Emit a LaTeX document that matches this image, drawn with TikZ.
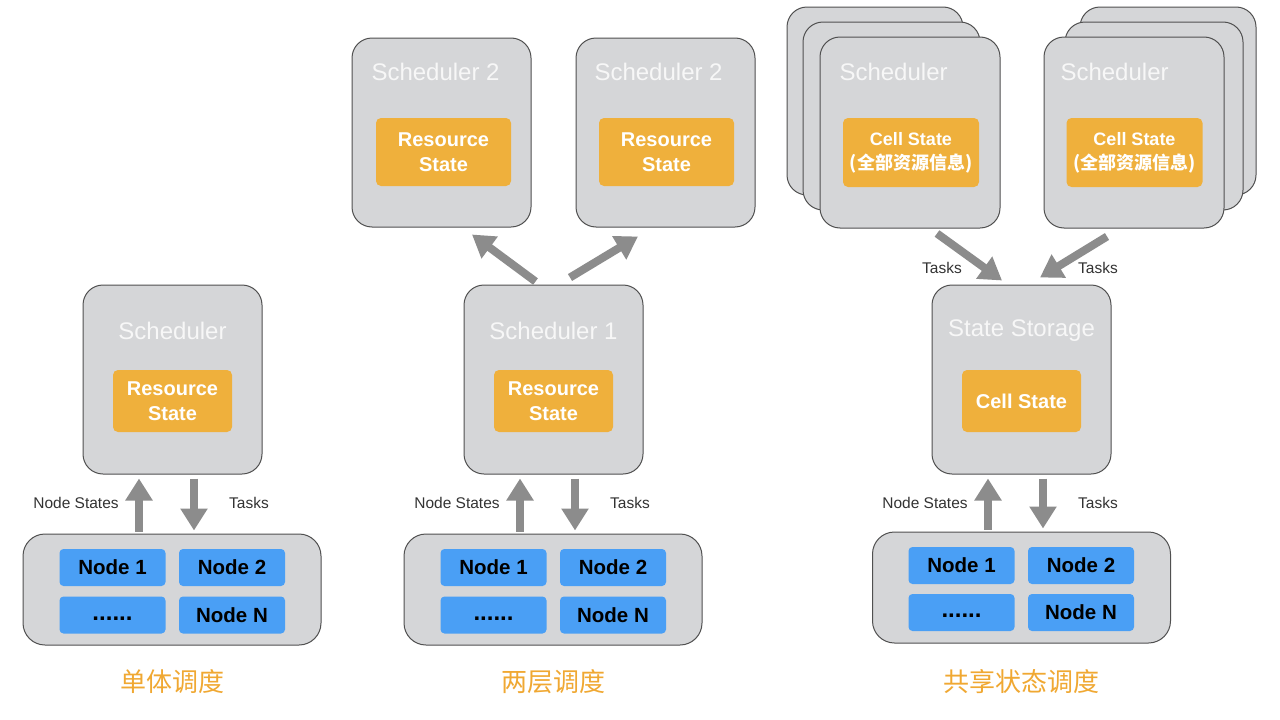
\documentclass[tikz,border=0pt]{standalone}
\usepackage{fontspec}
\setmainfont{Liberation Sans}
\newfontfamily\cjk{Noto Sans CJK SC}
\usetikzlibrary{arrows.meta,calc}
\definecolor{boxc}{HTML}{D5D6D8}
\definecolor{bordc}{HTML}{505050}
\definecolor{orangec}{HTML}{EFB03C}
\definecolor{bluec}{HTML}{4A9FF5}
\definecolor{arrc}{HTML}{8C8C8C}
\definecolor{titlec}{HTML}{F0A832}
\definecolor{labc}{HTML}{333333}
\definecolor{schedtxt}{HTML}{F7F7F7}
\tikzset{
  sched/.style={draw=bordc, fill=boxc, rounded corners=20pt, line width=1pt, minimum width=179pt, minimum height=189pt, inner sep=0pt},
  pool/.style={draw=bordc, fill=boxc, rounded corners=22pt, line width=1pt, minimum width=298pt, minimum height=111pt, inner sep=0pt},
  statebox/.style={fill=orangec, rounded corners=5pt, text=white, font=\bfseries\fontsize{20}{25}\selectfont, align=center, minimum width=119pt, minimum height=62pt, inner sep=0pt},
  cellbox/.style={fill=orangec, rounded corners=5pt, text=white, font=\bfseries\fontsize{18}{24}\selectfont, align=center, minimum width=136pt, minimum height=69pt, inner sep=0pt},
  nodebox/.style={fill=bluec, rounded corners=4pt, minimum width=106pt, minimum height=37pt, inner sep=0pt, font=\bfseries\fontsize{20.5}{22}\selectfont, text=black},
  dotsbox/.style={nodebox, font=\bfseries\fontsize{24}{24}\selectfont, text depth=0pt, text height=10pt},
  schedlab/.style={text=schedtxt, font=\fontsize{24}{28}\selectfont},
  lab/.style={text=labc, font=\fontsize{15.5}{18}\selectfont},
  title/.style={text=titlec, font=\cjk\fontsize{26}{30}\selectfont},
  bigarrow/.style={draw=arrc, line width=8pt, -{Triangle[length=22pt,width=26pt]}}
}
\begin{document}
\begin{tikzpicture}[x=1pt,y=-1pt]
\useasboundingbox[fill=white] (0,0) rectangle (1280,720);

% ---------- Panel 1 ----------
\node[sched] (s0) at (172.5,379.5) {};
\node[schedlab] (s0l) at (172.5,331) {Scheduler};
\node[statebox] (r0) at (172.5,401) {Resource\\State};
\node[pool] (p0) at (172,589.5) {};
\node[nodebox] (p0a) at (112.5,567.5) {Node 1};
\node[nodebox] (p0b) at (232,567.5) {Node 2};
\node[dotsbox] (p0c) at (112.5,615) {......};
\node[nodebox] (p0d) at (232,615) {Node N};
\coordinate (u0) at (139,0);
\coordinate (d0) at (194,0);
\draw[bigarrow] ([yshift=2pt]p0.north -| u0) -- ([yshift=-4pt]s0.south -| u0);
\draw[bigarrow] ([yshift=-4pt]s0.south -| d0) -- ([yshift=3pt]p0.north -| d0);
\node[lab] (ns0) at (76,503) {Node States};
\node[lab] (t0) at (249,503) {Tasks};
\node[title] (ti0) at (172,682) {单体调度};

% ---------- Panel 2 ----------
\node[sched] (s1) at (553.5,379.5) {};
\node[schedlab] (s1l) at (553.5,331) {Scheduler 1};
\node[statebox] (r1) at (553.5,401) {Resource\\State};
\node[pool] (p1) at (553,589.5) {};
\node[nodebox] (p1a) at (493.5,567.5) {Node 1};
\node[nodebox] (p1b) at (613,567.5) {Node 2};
\node[dotsbox] (p1c) at (493.5,615) {......};
\node[nodebox] (p1d) at (613,615) {Node N};
\coordinate (u1) at (520,0);
\coordinate (d1) at (575,0);
\draw[bigarrow] ([yshift=2pt]p1.north -| u1) -- ([yshift=-4pt]s1.south -| u1);
\draw[bigarrow] ([yshift=-4pt]s1.south -| d1) -- ([yshift=3pt]p1.north -| d1);
\node[lab] (ns1) at (457,503) {Node States};
\node[lab] (t1) at (630,503) {Tasks};

\node[sched] (s2a) at (441.5,132.5) {};
\node[schedlab, anchor=west] (s2al) at (368,72) {Scheduler 2};
\node[statebox, minimum width=135pt, minimum height=68pt] (r2a) at (443.5,152) {Resource\\State};
\node[sched] (s2b) at (665.5,132.5) {};
\node[schedlab, anchor=west] (s2bl) at (591,72) {Scheduler 2};
\node[statebox, minimum width=135pt, minimum height=68pt] (r2b) at (666.5,152) {Resource\\State};
\draw[bigarrow] ([xshift=-18pt,yshift=3pt]s1.north) -- ([xshift=30.5pt,yshift=-7pt]s2a.south);
\draw[bigarrow] ([xshift=16.5pt,yshift=7pt]s1.north) -- ([xshift=-27.5pt,yshift=-9pt]s2b.south);
\node[title] (ti1) at (553,682) {两层调度};

% ---------- Panel 3 ----------
\node[sched] (st) at (1021.5,379.5) {};
\node[schedlab] (stl) at (1021.5,331) {State Storage};
\node[statebox] (cs) at (1021.5,401) {Cell State};
\node[pool] (p2) at (1021.5,587.5) {};
\node[nodebox] (p2a) at (961.5,565.5) {Node 1};
\node[nodebox] (p2b) at (1081,565.5) {Node 2};
\node[dotsbox] (p2c) at (961.5,612.5) {......};
\node[nodebox] (p2d) at (1081,612.5) {Node N};
\coordinate (u2) at (988,0);
\coordinate (d2) at (1043,0);
\draw[bigarrow] ([yshift=2pt]p2.north -| u2) -- ([yshift=-4pt]st.south -| u2);
\draw[bigarrow] ([yshift=-4pt]st.south -| d2) -- ([yshift=3pt]p2.north -| d2);
\node[lab] (ns2) at (925,503) {Node States};
\node[lab] (t2) at (1098,503) {Tasks};

% left stack
\node[sched, minimum width=176pt, minimum height=188pt] (la3) at (875,101) {};
\node[sched, minimum width=177pt, minimum height=188pt] (la2) at (891.5,116) {};
\node[sched, minimum width=180pt, minimum height=191pt] (la1) at (910,132.5) {};
\node[schedlab, anchor=west] (la1l) at (836,72) {Scheduler};
\node[cellbox] (c1) at (911,152.5) {Cell State\\{\cjk\bfseries (全部资源信息)}};
% right stack
\node[sched, minimum width=176pt, minimum height=188pt] (rb3) at (1168,101) {};
\node[sched, minimum width=178pt, minimum height=188pt] (rb2) at (1154,116) {};
\node[sched, minimum width=180pt, minimum height=191pt] (rb1) at (1134,132.5) {};
\node[schedlab, anchor=west] (rb1l) at (1057,72) {Scheduler};
\node[cellbox] (c2) at (1134.5,152.5) {Cell State\\{\cjk\bfseries (全部资源信息)}};

\draw[bigarrow] ([xshift=27pt,yshift=-5pt]la1.south) -- ([xshift=-19.5pt,yshift=4pt]st.north);
\draw[bigarrow] ([xshift=-27pt,yshift=-8pt]rb1.south) -- ([xshift=18.5pt,yshift=7pt]st.north);
\node[lab] (t3) at (942,268) {Tasks};
\node[lab] (t4) at (1098,268) {Tasks};
\node[title] (ti2) at (1021,682) {共享状态调度};
\end{tikzpicture}
\end{document}
